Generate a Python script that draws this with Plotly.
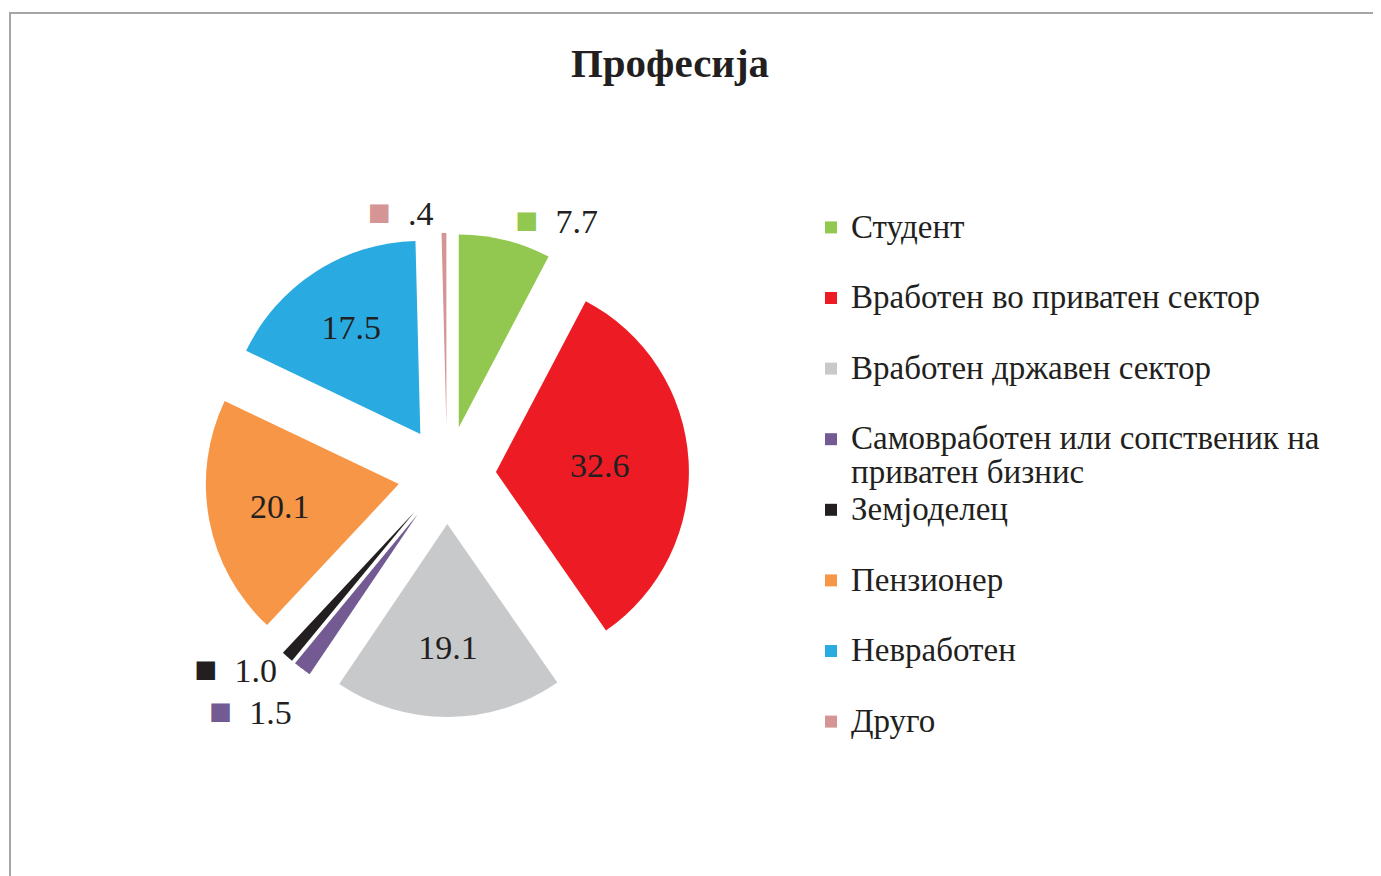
import plotly.graph_objects as go

# ---- data ----
categories = [
    "Студент",
    "Вработен во приватен сектор",
    "Вработен државен сектор",
    "Самовработен или сопственик на<br>приватен бизнис",
    "Земјоделец",
    "Пензионер",
    "Невработен",
    "Друго",
]
values = [7.7, 32.6, 19.1, 1.5, 1.0, 20.1, 17.5, 0.4]
colors = ["#92c850", "#ed1c24", "#c8c9cb", "#735a93", "#231f20", "#f79646", "#29abe2", "#d49594"]
label_positions = ["outside", "inside", "inside", "outside", "outside", "inside", "inside", "outside"]
title_text = "Професија"

FONT = "Liberation Serif"
INK = "#231f20"

# value text like SPSS: ".4" instead of "0.4"
def fmt(v):
    s = f"{v:.1f}"
    return s[1:] if s.startswith("0.") else s

texts = [fmt(v) for v in values]
templates = []
for c, pos in zip(colors, label_positions):
    if pos == "outside":
        templates.append(
            f"<span style='color:{c};font-size:38px'>■</span>\u00a0\u00a0"
            f"<span style='color:{INK}'>%{{text}}</span>"
        )
    else:
        templates.append("%{text}")

# legend labels: larger text on a tighter line grid, blank line for spacing
def legend_label(c):
    lines = c.split("<br>")
    body = "<br>".join(f"<span style='font-size:33px'>{ln}</span>" for ln in lines)
    return body if len(lines) > 1 else body + "<br>\u00a0"

legend_labels = [legend_label(c) for c in categories]

W, H = 1381, 876
cx, cy, half = 439, 467, 242

fig = go.Figure(
    go.Pie(
        labels=legend_labels,
        values=values,
        text=texts,
        texttemplate=templates,
        textinfo="text",
        textposition=label_positions,
        insidetextorientation="horizontal",
        marker=dict(colors=colors, line=dict(width=0)),
        sort=False,
        direction="clockwise",
        rotation=0,
        pull=[0.254] * len(values),
        textfont=dict(family=FONT, size=34, color=INK),
        insidetextfont=dict(family=FONT, size=34, color=INK),
        # base colour white so the automatic connector line stays invisible;
        # the visible label colours come from the spans in the template
        outsidetextfont=dict(family=FONT, size=34, color="#ffffff"),
        domain=dict(x=[(cx - half) / W, (cx + half) / W], y=[1 - (cy + half) / H, 1 - (cy - half) / H]),
        hoverinfo="value",
        automargin=False,
    )
)

fig.update_layout(
    width=W,
    height=H,
    margin=dict(l=0, r=0, t=0, b=0),
    paper_bgcolor="white",
    plot_bgcolor="white",
    title=dict(
        text=f"<b>{title_text}</b>",
        x=662 / W,
        xanchor="center",
        y=1 - 55 / H,
        yanchor="middle",
        font=dict(family=FONT, size=41, color=INK),
    ),
    legend=dict(
        x=803 / W,
        xanchor="left",
        y=1 - 196 / H,
        yanchor="top",
        valign="top",
        font=dict(family=FONT, size=26, color=INK),
        bgcolor="rgba(0,0,0,0)",
        itemclick=False,
        tracegroupgap=0,
    ),
    showlegend=True,
    shapes=[
        dict(
            type="rect", xref="paper", yref="paper",
            x0=2 / W, x1=1.02, y0=-0.02, y1=1 - 5 / H,
            line=dict(color="#a6a6a6", width=2), fillcolor="rgba(0,0,0,0)",
        )
    ],
)

fig.write_html("out.html")
